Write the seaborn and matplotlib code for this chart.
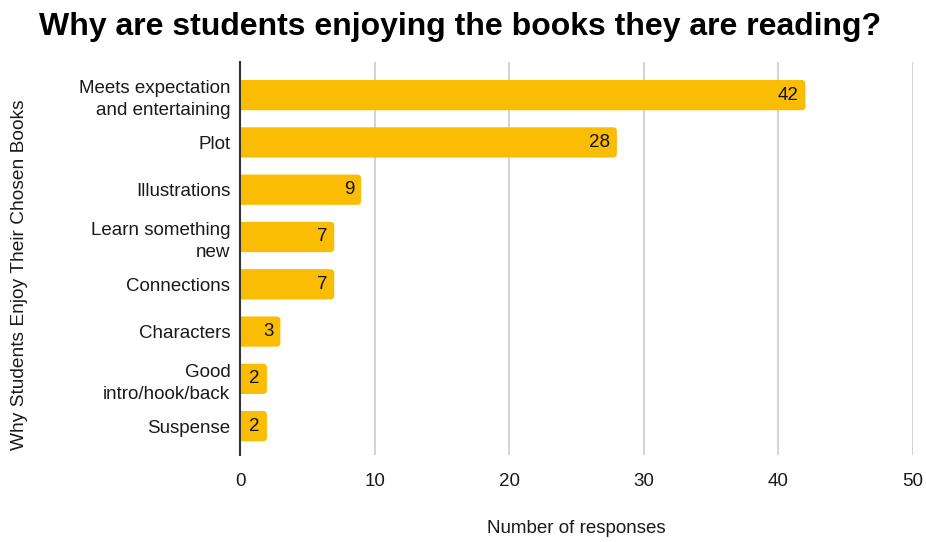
import matplotlib
matplotlib.use("Agg")
import matplotlib.pyplot as plt
from matplotlib.patches import FancyBboxPatch
import seaborn as sns
import pandas as pd

reasons = [
    "Meets expectation\nand entertaining",
    "Plot",
    "Illustrations",
    "Learn something\nnew",
    "Connections",
    "Characters",
    "Good\nintro/hook/back",
    "Suspense",
]
responses = [42, 28, 9, 7, 7, 3, 2, 2]
x_ticks = [0, 10, 20, 30, 40, 50]

df = pd.DataFrame({"reason": reasons, "responses": responses})

sns.set_theme(style="white")
plt.rcParams["font.family"] = ["Liberation Sans", "DejaVu Sans"]

bar_color = "#FBBC04"
text_color = "#1a1a1a"
fs = 13.5

fig = plt.figure(figsize=(9.26, 5.42), dpi=100)
ax = fig.add_axes([0.2592, 0.1605, 0.7268, 0.7251])

sns.barplot(data=df, x="responses", y="reason", color=bar_color,
            width=0.64, saturation=1, ax=ax, zorder=3)

ax.set_xlim(0, 50)
ax.set_ylim(7.61, -0.70)

# Rounded right ends: replace each bar rectangle with a rounded box that
# starts left of zero so only the right corners show.
px_per_x = 673 / 50.0
px_per_y = 47.3
radius_px = 4.0
rx = radius_px / px_per_x
ry = radius_px / px_per_y
for patch, val in zip(list(ax.patches), responses):
    x0 = patch.get_x()
    y0 = patch.get_y()
    w = patch.get_width()
    h = patch.get_height()
    patch.set_visible(False)
    rounded = FancyBboxPatch((x0 - 1.0, y0), w + 1.0, h,
                             boxstyle=f"round,pad=0,rounding_size={rx}",
                             mutation_aspect=ry / rx,
                             facecolor=bar_color, edgecolor="none",
                             zorder=3, clip_on=True)
    ax.add_patch(rounded)
    ax.annotate(str(val), xy=(x0 + w, y0 + h / 2), xytext=(-5, 0),
                textcoords="offset points", ha="right", va="center",
                fontsize=fs, color="#111111", zorder=4)

ax.set_xticks(x_ticks)
ax.xaxis.grid(True, color="#CCCCCC", linewidth=1.2, zorder=0)
ax.yaxis.grid(False)
for side in ["top", "right", "bottom"]:
    ax.spines[side].set_visible(False)
ax.spines["left"].set_color("#333333")
ax.spines["left"].set_linewidth(1.5)
ax.spines["left"].set_zorder(5)

ax.tick_params(axis="both", length=0, labelsize=fs, colors=text_color)
ax.tick_params(axis="y", pad=7)
ax.tick_params(axis="x", pad=13)
for lab in ax.get_yticklabels():
    lab.set_horizontalalignment("right")
    lab.set_multialignment("right")
    lab.set_linespacing(1.4)

ax.set_xlabel("Number of responses", fontsize=fs, color=text_color, va="center")
ax.xaxis.set_label_coords(0.5, -0.186)
ax.set_ylabel("Why Students Enjoy Their Chosen Books", fontsize=13.8,
              color=text_color, va="center")
ax.yaxis.set_label_coords(-0.327, 0.46)

fig.text(0.497, 0.951, "Why are students enjoying the books they are reading?",
         ha="center", va="center", fontsize=23, fontweight="bold", color="#000000")

fig.savefig("out.png", dpi=100, facecolor="white")
